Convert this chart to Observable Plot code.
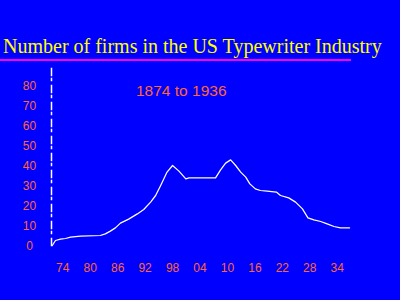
<!DOCTYPE html>
<html>
<head>
<meta charset="utf-8">
<script src="https://cdn.jsdelivr.net/npm/d3@7"></script>
<script src="https://cdn.jsdelivr.net/npm/@observablehq/plot@0.6"></script>
<style>
  html, body { margin: 0; padding: 0; background: #0000FF; width: 400px; height: 300px; overflow: hidden; }
  #wrap { position: relative; width: 400px; height: 300px; }
  #header { position: relative; width: 400px; height: 64px; }
  #title { position: absolute; left: 3px; top: 36px; font-family: "Liberation Serif", "Times New Roman", serif; font-size: 20px; line-height: 20px; color: #FFFF00; white-space: nowrap; }
  #rule { position: absolute; left: 0; top: 59px; width: 351px; height: 2px; background: #FF00FF; }
  #sub { position: absolute; left: 136px; top: 83px; font-family: "Liberation Sans", Arial, sans-serif; font-size: 15.5px; line-height: 15.5px; color: #FF6633; white-space: nowrap; z-index: 2; }
  #chart svg { display: block; }
</style>
</head>
<body>
<div id="wrap">
  <div id="header"><div id="title"></div><div id="rule"></div></div>
  <div id="sub"></div>
  <div id="chart"></div>
</div>
<script>
const titleText = "Number of firms in the US Typewriter Industry";
const subtitleText = "1874 to 1936";

const years = [1871.7, 1872.4, 1873.5, 1874.6, 1875.7, 1877.9, 1882.2, 1883.3, 1884.4, 1885.5, 1886.6, 1888.4, 1890.3, 1891.7, 1893.2, 1894.3, 1895.4, 1896.8, 1898.0, 1899.4, 1900.9, 1901.6, 1907.4, 1908.5, 1909.6, 1910.7, 1911.8, 1912.9, 1914.0, 1914.9, 1916.1, 1917.2, 1918.7, 1920.7, 1921.6, 1923.4, 1924.9, 1926.4, 1927.6, 1928.9, 1930.4, 1931.8, 1933.3, 1934.7, 1936.7];
const firms = [0.5, 3, 3.7, 4, 4.7, 5.2, 5.5, 6.3, 7.7, 9.3, 11.7, 13.7, 16.3, 18.5, 22.2, 25.5, 30.5, 37.2, 40.5, 37.7, 33.8, 34.3, 34.3, 38.3, 41.7, 43.3, 40.5, 37.2, 34.7, 31.3, 28.8, 28, 27.7, 27.2, 25.5, 24.3, 22.2, 18.8, 14.3, 13.3, 12.5, 11.3, 10, 9.3, 9.3];

const xTicks = [1874, 1880, 1886, 1892, 1898, 1904, 1910, 1916, 1922, 1928, 1934];
const yTicks = [0, 10, 20, 30, 40, 50, 60, 70, 80];

document.getElementById("title").textContent = titleText;
document.getElementById("sub").textContent = subtitleText;

const data = years.map((y, i) => ({year: y, firms: firms[i]}));

const chart = Plot.plot({
  width: 400,
  height: 236,
  marginLeft: 51,
  marginRight: 51,
  marginTop: 4,
  marginBottom: 54,
  style: {background: "transparent", color: "#FF6633", fontSize: "12px", fontFamily: "'Liberation Sans', Arial, sans-serif"},
  x: {domain: [1871.53, 1936.69]},
  y: {domain: [0, 89]},
  marks: [
    Plot.frame({anchor: "left", stroke: "white", strokeWidth: 1.5, strokeDasharray: "7,3,2,5"}),
    Plot.axisX({ticks: xTicks, tickSize: 0, tickPadding: 17, tickFormat: d => String(d % 100).padStart(2, "0"), label: null, fill: "#FF6633"}),
    Plot.axisY({ticks: yTicks, tickSize: 0, tickPadding: 22, textAnchor: "middle", label: null, fill: "#FF6633"}),
    Plot.line(data, {x: "year", y: "firms", stroke: "white", strokeWidth: 1.25})
  ]
});
document.getElementById("chart").appendChild(chart);
</script>
</body>
</html>
